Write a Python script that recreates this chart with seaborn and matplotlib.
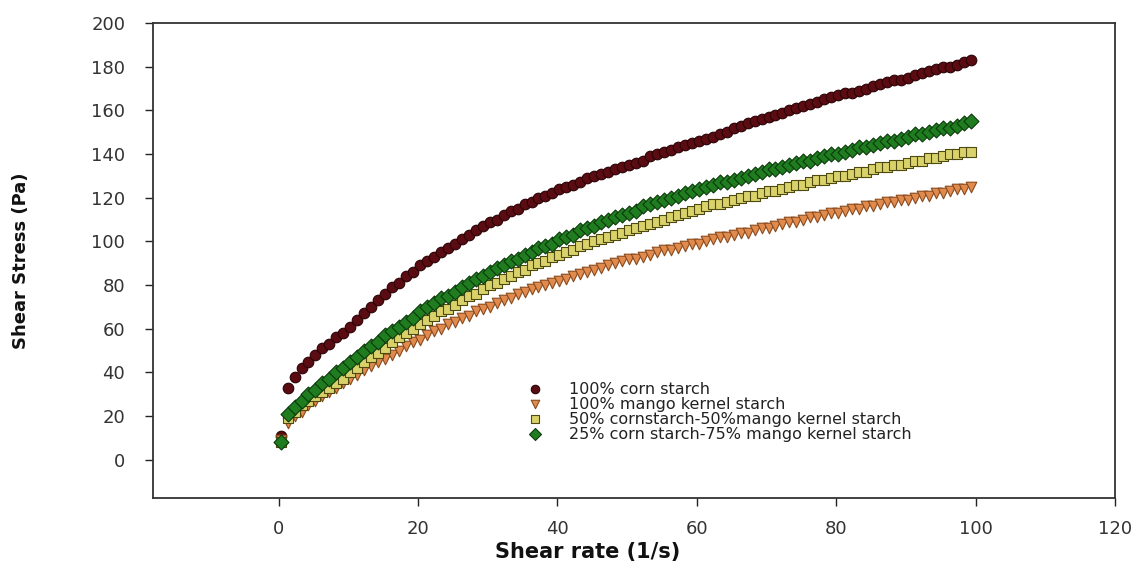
import numpy as np
import pandas as pd
import matplotlib
matplotlib.use("Agg")
import matplotlib.pyplot as plt
import seaborn as sns

# shear rate (1/s), same for all four samples
shear_rate = [0.3, 1.3, 2.3, 3.3, 4.3, 5.3, 6.3, 7.3, 8.3, 9.3,
              10.3, 11.3, 12.3, 13.3, 14.3, 15.3, 16.3, 17.3, 18.3, 19.3,
              20.3, 21.3, 22.3, 23.3, 24.3, 25.3, 26.3, 27.3, 28.3, 29.3,
              30.3, 31.3, 32.3, 33.3, 34.3, 35.3, 36.3, 37.3, 38.3, 39.3,
              40.3, 41.3, 42.3, 43.3, 44.3, 45.3, 46.3, 47.3, 48.3, 49.3,
              50.3, 51.3, 52.3, 53.3, 54.3, 55.3, 56.3, 57.3, 58.3, 59.3,
              60.3, 61.3, 62.3, 63.3, 64.3, 65.3, 66.3, 67.3, 68.3, 69.3,
              70.3, 71.3, 72.3, 73.3, 74.3, 75.3, 76.3, 77.3, 78.3, 79.3,
              80.3, 81.3, 82.3, 83.3, 84.3, 85.3, 86.3, 87.3, 88.3, 89.3,
              90.3, 91.3, 92.3, 93.3, 94.3, 95.3, 96.3, 97.3, 98.3, 99.3]

# shear stress (Pa)
corn_100 = [11, 33, 38, 42, 45, 48, 51, 53, 56, 58,
            61, 64, 67, 70, 73, 76, 79, 81, 84, 86,
            89, 91, 93, 95, 97, 99, 101, 103, 105, 107,
            109, 110, 112, 114, 115, 117, 118, 120, 121, 122,
            124, 125, 126, 127, 129, 130, 131, 132, 133, 134,
            135, 136, 137, 139, 140, 141, 142, 143, 144, 145,
            146, 147, 148, 149, 150, 152, 153, 154, 155, 156,
            157, 158, 159, 160, 161, 162, 163, 164, 165, 166,
            167, 168, 168, 169, 170, 171, 172, 173, 174, 174,
            175, 176, 177, 178, 179, 180, 180, 181, 182, 183]

mango_100 = [9, 17, 20, 22, 25, 27, 29, 31, 33, 35,
             37, 39, 41, 43, 45, 46, 48, 50, 52, 54,
             55, 57, 59, 60, 62, 63, 65, 66, 68, 69,
             70, 72, 73, 74, 76, 77, 78, 79, 80, 81,
             82, 83, 84, 85, 86, 87, 88, 89, 90, 91,
             92, 92, 93, 94, 95, 96, 96, 97, 98, 99,
             99, 100, 101, 102, 102, 103, 104, 104, 105, 106,
             106, 107, 108, 109, 109, 110, 111, 111, 112, 113,
             113, 114, 115, 115, 116, 116, 117, 118, 118, 119,
             119, 120, 121, 121, 122, 122, 123, 124, 124, 125]

corn50_mango50 = [8, 19, 22, 25, 27, 29, 31, 33, 35, 37,
                  40, 42, 45, 47, 49, 51, 54, 56, 58, 60,
                  62, 64, 66, 68, 69, 71, 73, 75, 76, 78,
                  80, 81, 83, 84, 86, 87, 89, 90, 91, 93,
                  94, 95, 96, 98, 99, 100, 101, 102, 103, 104,
                  105, 106, 107, 108, 109, 110, 111, 112, 113, 114,
                  115, 116, 117, 117, 118, 119, 120, 121, 121, 122,
                  123, 123, 124, 125, 126, 126, 127, 128, 128, 129,
                  130, 130, 131, 132, 132, 133, 134, 134, 135, 135,
                  136, 137, 137, 138, 138, 139, 140, 140, 141, 141]

corn25_mango75 = [8, 21, 24, 27, 30, 32, 35, 37, 40, 42,
                  45, 47, 50, 52, 54, 57, 59, 61, 63, 65,
                  68, 70, 72, 74, 75, 77, 79, 81, 83, 84,
                  86, 88, 89, 91, 92, 94, 95, 97, 98, 99,
                  101, 102, 103, 105, 106, 107, 109, 110, 111, 112,
                  113, 114, 116, 117, 118, 119, 120, 121, 122, 123,
                  124, 125, 126, 127, 127, 128, 129, 130, 131, 132,
                  133, 133, 134, 135, 136, 137, 137, 138, 139, 140,
                  140, 141, 142, 143, 143, 144, 145, 146, 146, 147,
                  148, 149, 149, 150, 151, 152, 152, 153, 154, 155]

labels = ["100% corn starch",
          "100% mango kernel starch",
          "50% cornstarch-50%mango kernel starch",
          "25% corn starch-75% mango kernel starch"]

sns.set_style("ticks")
plt.rcParams["font.family"] = ["DejaVu Sans"]

fig = plt.figure(figsize=(11.37, 5.67), dpi=100)
ax = fig.add_axes([0.1346, 0.1217, 0.846, 0.8377])

# marker styles per sample
styles = [
    ("o", "#5a0c12", "#2a0205"),
    ("v", "#e08a4e", "#8a4a1c"),
    ("s", "#d9d26a", "#4e4a12"),
    ("D", "#1f7d1f", "#0b3a0b"),
]
series = [corn_100, mango_100, corn50_mango50, corn25_mango75]

for values, label, (mk, fc, ec) in zip(series, labels, styles):
    df = pd.DataFrame({"rate": shear_rate, "stress": values})
    sns.scatterplot(data=df, x="rate", y="stress", ax=ax, marker=mk,
                    color=fc, edgecolor=ec, linewidth=0.8, s=58,
                    label=label, zorder=3)

ax.set_xlim(-18, 120)
ax.set_ylim(-17.5, 200)
ax.set_xticks([0, 20, 40, 60, 80, 100, 120])
ax.set_yticks(list(range(0, 201, 20)))
ax.tick_params(axis="both", direction="out", length=6, width=1,
               labelsize=13, colors="#222222", labelcolor="#333333")
ax.tick_params(axis="x", pad=10)
ax.tick_params(axis="y", pad=14)

for side in ["left", "bottom", "top", "right"]:
    ax.spines[side].set_visible(True)
    ax.spines[side].set_color("#333333")
    ax.spines[side].set_linewidth(1.3)

ax.set_xlabel("Shear rate (1/s)", fontsize=15, fontweight="bold",
              color="#111111")
ax.xaxis.set_label_coords(0.452, -0.092)
ax.set_ylabel("Shear Stress (Pa)", fontsize=13, fontweight="bold",
              color="#111111")
ax.yaxis.set_label_coords(-0.128, 0.5)

leg = ax.legend(loc="upper left", bbox_to_anchor=(0.389, 0.245), frameon=False,
                fontsize=11.5, labelspacing=0.0, handletextpad=1.6,
                handlelength=1.0, borderaxespad=0, borderpad=0,
                markerscale=0.8)
for txt in leg.get_texts():
    txt.set_color("#222222")

fig.savefig("out.png", dpi=100)
